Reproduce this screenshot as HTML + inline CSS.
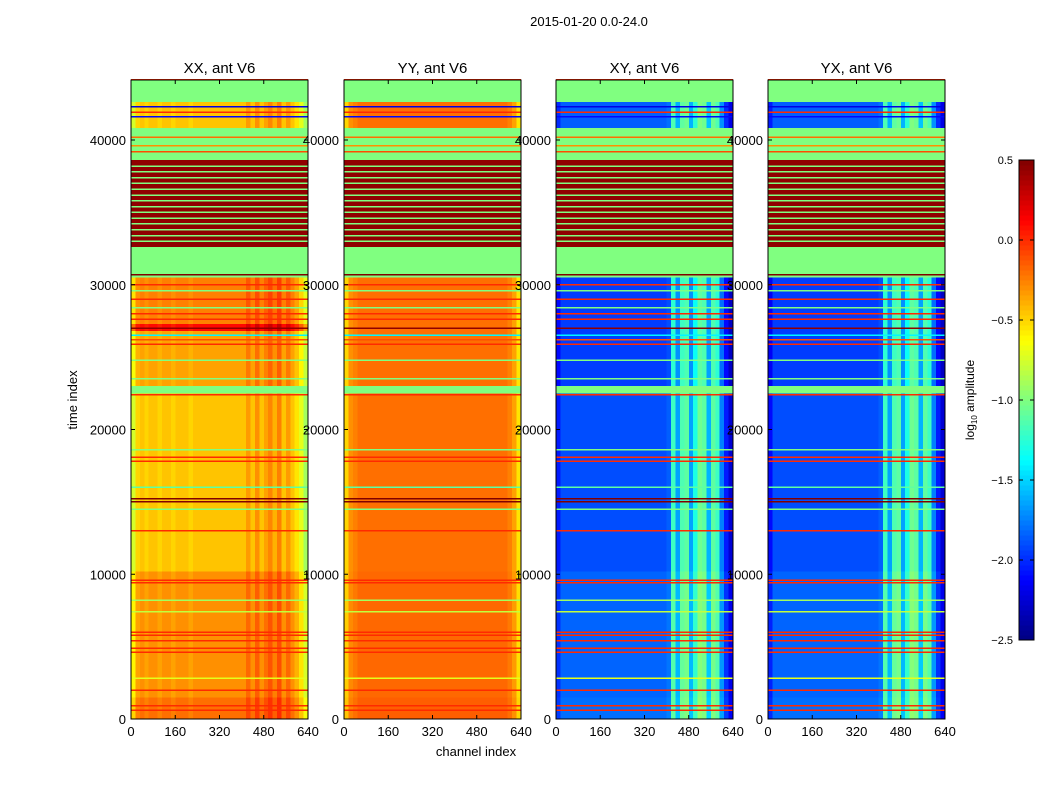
<!DOCTYPE html>
<html><head><meta charset="utf-8"><style>
body{margin:0;background:#fff;}
svg{display:block;font-family:"Liberation Sans","DejaVu Sans",sans-serif;}
</style></head><body>
<svg id="fig" width="1050" height="800" xmlns="http://www.w3.org/2000/svg">
<rect width="1050" height="800" fill="#fff"/>
<text x="589" y="26" font-size="13" text-anchor="middle">2015-01-20 0.0-24.0</text>
<text x="476" y="756" font-size="13" text-anchor="middle">channel index</text>
<text transform="translate(77,400) rotate(-90)" font-size="13" text-anchor="middle">time index</text>
<g id="panels"></g>
<g id="cbar"></g>
</svg>
<script>
// ---- data ----
const panelTitles = ["XX, ant V6", "YY, ant V6", "XY, ant V6", "YX, ant V6"];
const xTicks = [0, 160, 320, 480, 640];
const yTicks = [0, 10000, 20000, 30000, 40000];
const cbarTicks = [0.5, 0.0, -0.5, -1.0, -1.5, -2.0, -2.5];
const chanBins = [0,16,32,48,64,80,96,112,128,144,160,176,192,208,224,240,256,272,288,304,320,336,352,368,384,400,416,432,448,464,480,496,512,528,544,560,576,592,608,624];
const chanOffXX = [-0.3,-0.05,0,-0.05,0,0,-0.05,0,0,-0.05,0,0,0,-0.05,0,0,0,0,0,0,0,0,0,0,0,0,0.12,0.0,0.15,0.0,0.1,0.18,0.05,0.2,0.0,0.12,0.0,-0.1,-0.25,-0.45];
const chanOffYY = [-0.3,-0.1,-0.05,0,0,0,0,0,0,0,0,0,0,0,0,0,0,0,0,0,0,0,0,0,0,0,0,0,0,0,0,0,0,0,0,0,0,-0.05,-0.15,-0.35];
const chanOffXY = [-0.1,0.05,0.05,0.05,0.05,0.05,0.05,0.05,0.05,0.05,0.05,0.05,0.05,0.05,0.05,0.05,0.05,0.05,0.05,0.05,0.05,0.05,0.05,0.05,0.05,0.1,0.75,0.3,0.8,0.85,0.3,0.65,0.9,0.85,0.35,0.85,0.75,0.2,-0.1,-0.3];
const chanOffYX = [-0.15,0.05,0.05,0.05,0.05,0.05,0.05,0.05,0.05,0.05,0.05,0.05,0.05,0.05,0.05,0.05,0.05,0.05,0.05,0.05,0.05,0.05,0.05,0.05,0.05,0.1,0.75,0.3,0.8,0.85,0.3,0.65,0.9,0.85,0.35,0.85,0.75,0.2,-0.1,-0.3];
const bandStart = [0,     1500,  10200, 22500, 23000, 26800, 27300, 30500, 30810, 32610, 38620, 40830, 42625];
const bandEnd   = [1500,  10200, 22500, 23000, 26800, 27300, 30500, 30810, 32610, 38620, 40830, 42625, 44200];
const bandFlat  = [0,0,0,1,0,0,0,1,1,1,1,0,1];
const bandXX = [-0.2,-0.3,-0.45,-1.0,-0.35,0.1,-0.25,-1.0,-1.0,0.45,-1.0,-0.45,-1.0];
const bandYY = [-0.15,-0.18,-0.2,-1.0,-0.2,-0.2,-0.2,-1.0,-1.0,0.45,-1.0,-0.2,-1.0];
const bandXY = [-1.85,-1.88,-1.95,-1.0,-2.0,-2.0,-2.0,-1.0,-1.0,0.45,-1.0,-1.9,-1.0];
const bandYX = [-1.85,-1.88,-1.95,-1.0,-2.0,-2.0,-2.0,-1.0,-1.0,0.45,-1.0,-1.9,-1.0];
const lineTimes  = [600,900,2000,2800,4600,4900,5400,5800,6000,7400,8200,9400,9600,13000,14500,15000,15200,16000,17800,18100,18600,22400,23500,24800,25900,26200,26500,27000,27600,28000,28400,29000,29600,30000,30700,33000,33400,33800,34200,34600,35000,35400,35800,36200,36600,37000,37400,37800,38200,39200,39600,40200,41600,41900,42300,44150];
const lineLevels = [0.0,0.0,0.0,-0.7,0.0,0.0,0.0,0.0,0.0,-0.8,-0.9,0.0,0.0,0.0,-1.0,0.5,0.5,-1.1,0.0,0.0,-1.0,0.0,-1.0,-1.0,0.0,-0.1,-1.4,0.45,0.0,0.0,-1.0,0.0,-1.0,0.0,0.5,-1.0,-1.0,-1.0,-1.0,-1.0,-1.0,-1.0,-1.0,-1.0,-1.0,-1.0,-1.0,-1.0,-1.0,-0.1,-0.3,-0.2,-2.1,0.0,-2.2,0.0];

// ---- layout ----
const panelX = [131, 344, 556, 768];
const PW = 177, PY0 = 80, PY1 = 719;
const T_MAX = 44200;
const bandData = [bandXX, bandYY, bandXY, bandYX];
const chanData = [chanOffXX, chanOffYY, chanOffXY, chanOffYX];
const NS = "http://www.w3.org/2000/svg";

function jet(v){
  let t = (v + 2.5) / 3.0; t = Math.max(0, Math.min(1, t));
  const c = x => Math.round(255 * Math.max(0, Math.min(1, x)));
  return `rgb(${c(1.5-Math.abs(4*t-3))},${c(1.5-Math.abs(4*t-2))},${c(1.5-Math.abs(4*t-1))})`;
}
function el(tag, attrs, parent){
  const e = document.createElementNS(NS, tag);
  for (const k in attrs) e.setAttribute(k, attrs[k]);
  parent.appendChild(e); return e;
}
const yScale = t => PY1 - (t / 10000) * 144.75;
const xScaleFor = px => ch => px + ch / 640 * PW;

const root = document.getElementById("panels");
panelTitles.forEach((title, p) => {
  const px = panelX[p], xs = xScaleFor(px);
  const g = el("g", {}, root);
  
  
  const img = el("g", {"shape-rendering":"crispEdges"}, g);
  
  
  bandStart.forEach((s, b) => {
    const y0 = yScale(Math.min(bandEnd[b], T_MAX)), y1 = yScale(s);
    if (bandFlat[b]) {
      const r = el("rect", {x: px, y: y0, width: PW, height: y1 - y0, fill: jet(bandData[p][b])}, img);
      
      
    } else {
      chanBins.forEach((c, i) => {
        const x0 = xs(c), x1 = xs(c + 16);
        const r = el("rect", {x: x0, y: y0, width: x1 - x0 + 0.3, height: y1 - y0, fill: jet(bandData[p][b] + chanData[p][i])}, img);
        
        
      });
    }
  });
  lineTimes.forEach((t, i) => {
    const r = el("rect", {x: px, y: yScale(t) - 0.75, width: PW, height: 1.5, fill: jet(lineLevels[i])}, img);
    
    
  });
  const fr = el("rect", {x: px, y: PY0, width: PW, height: PY1 - PY0, fill: "none", stroke: "#000", "stroke-width": 1}, g);
  
  
  const tt = el("text", {x: px + PW/2, y: 73, "font-size": 15, "text-anchor": "middle"}, g);
  tt.textContent = title;
  
  
  xTicks.forEach(v => {
    const x = xs(v);
    el("line", {x1: x, x2: x, y1: PY1, y2: PY1 - 4, stroke: "#000"}, g);
    el("line", {x1: x, x2: x, y1: PY0, y2: PY0 + 4, stroke: "#000"}, g);
    const t = el("text", {x: x, y: PY1 + 17, "font-size": 13, "text-anchor": "middle"}, g);
    t.textContent = v;
    
    
  });
  yTicks.forEach(v => {
    const y = yScale(v);
    el("line", {x1: px, x2: px + 4, y1: y, y2: y, stroke: "#000"}, g);
    el("line", {x1: px + PW, x2: px + PW - 4, y1: y, y2: y, stroke: "#000"}, g);
    const t = el("text", {x: px - 5, y: y + 5, "font-size": 13, "text-anchor": "end"}, g);
    t.textContent = v;
    
    
  });
});

// colorbar
const cb = document.getElementById("cbar");
const CBX = 1019, CBW = 15, CBY0 = 160, CBY1 = 640;
const cbY = v => CBY1 - (v + 2.5) / 3.0 * (CBY1 - CBY0);
for (let i = 0; i < 96; i++) {
  const v = -2.5 + (i + 0.5) * 3 / 96;
  el("rect", {x: CBX, y: cbY(-2.5 + (i+1)*3/96), width: CBW, height: (CBY1-CBY0)/96 + 0.5, fill: jet(v), "shape-rendering":"crispEdges"}, cb);
}
el("rect", {x: CBX, y: CBY0, width: CBW, height: CBY1 - CBY0, fill: "none", stroke: "#000"}, cb);
cbarTicks.forEach(v => {
  const y = cbY(v);
  el("line", {x1: CBX, x2: CBX + 4, y1: y, y2: y, stroke: "#000"}, cb);
  el("line", {x1: CBX + CBW, x2: CBX + CBW - 4, y1: y, y2: y, stroke: "#000"}, cb);
  const t = el("text", {x: 1013, y: y + 4, "font-size": 11, "text-anchor": "end"}, cb);
  t.textContent = v.toFixed(1).replace("-", "\u2212");
  
  
});
const cl = el("text", {transform: "translate(974,400) rotate(-90)", "font-size": 12, "text-anchor": "middle"}, cb);
cl.innerHTML = 'log<tspan font-size="8" dy="3">10</tspan><tspan dy="-3"> amplitude</tspan>';


</script>
</body></html>
